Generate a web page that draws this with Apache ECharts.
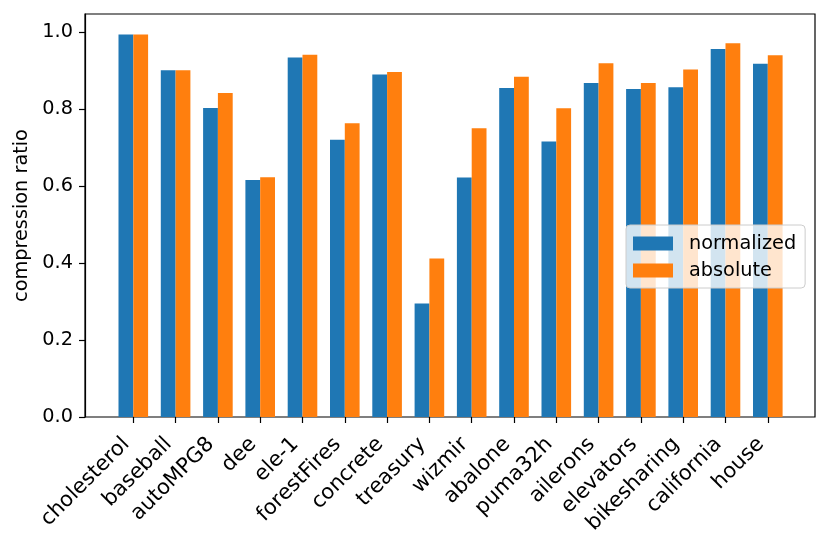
<!DOCTYPE html>
<html>
<head>
<meta charset="utf-8">
<script src="https://cdn.jsdelivr.net/npm/echarts@6/dist/echarts.min.js"></script>
<style>
  html, body { margin: 0; padding: 0; background: #fff; }
  #chart { width: 829px; height: 549px; }
</style>
</head>
<body>
<div id="chart"></div>
<script>
// datasets on the x axis
var categories = ['cholesterol', 'baseball', 'autoMPG8', 'dee', 'ele-1', 'forestFires', 'concrete', 'treasury',
    'wizmir', 'abalone', 'puma32h', 'ailerons', 'elevators', 'bikesharing', 'california', 'house'];

// compression ratio per dataset
var normalized = [0.994, 0.901, 0.803, 0.616, 0.934, 0.720, 0.890, 0.295,
    0.622, 0.855, 0.716, 0.868, 0.852, 0.857, 0.956, 0.918];
var absolute = [0.994, 0.901, 0.842, 0.623, 0.941, 0.763, 0.896, 0.412,
    0.750, 0.884, 0.802, 0.919, 0.868, 0.903, 0.971, 0.940];

var yTicks = [0, 0.2, 0.4, 0.6, 0.8, 1.0];

var chart = echarts.init(document.getElementById('chart'));
var font = 'DejaVu Sans';
var fs = 19.3;
var yMax = 1.047;

var option = {
    animation: false,
    textStyle: { fontFamily: font, color: '#000' },
    legend: {
        data: ['normalized', 'absolute'],
        orient: 'vertical',
        left: 626,
        top: 225,
        padding: [9, 9, 8, 7],
        itemWidth: 40,
        itemHeight: 14,
        itemGap: 8,
        icon: 'rect',
        backgroundColor: 'rgba(255,255,255,0.8)',
        borderColor: '#ccc',
        borderWidth: 1,
        borderRadius: 4,
        textStyle: { fontFamily: font, fontSize: fs, color: '#000', padding: [0, 0, 0, 11] }
    },
    grid: [
        // frame + y axis
        { left: 85, top: 14, width: 730, height: 403, show: true, borderColor: '#000', borderWidth: 1.2,
          backgroundColor: 'transparent', outerBoundsMode: 'none' },
        // bars, category spacing like matplotlib margins
        { left: 112.15, top: 14, width: 676.8, height: 403, outerBoundsMode: 'none' }
    ],
    xAxis: [
        { type: 'category', gridIndex: 0, show: false, data: categories },
        {
            type: 'category',
            gridIndex: 1,
            data: categories,
            boundaryGap: true,
            axisLine: { show: false },
            axisTick: { show: true, alignWithLabel: true, length: 6, lineStyle: { color: '#000', width: 1.2 } },
            axisLabel: {
                rotate: 45, margin: 17, interval: 0, padding: [0, 10, 0, 0],
                fontFamily: font, fontSize: 21, color: '#000'
            },
            splitLine: { show: false }
        }
    ],
    yAxis: [
        {
            type: 'value',
            gridIndex: 0,
            min: 0,
            max: yMax,
            name: 'compression ratio',
            nameLocation: 'middle',
            nameGap: 50,
            nameTextStyle: { fontFamily: font, fontSize: fs, color: '#000' },
            axisLine: { show: true, lineStyle: { color: '#000', width: 1.2 } },
            axisTick: { show: true, length: 6, customValues: yTicks, lineStyle: { color: '#000', width: 1.2 } },
            axisLabel: {
                margin: 12, fontFamily: font, fontSize: fs, color: '#000',
                customValues: yTicks,
                formatter: function (v) { return v.toFixed(1); }
            },
            splitLine: { show: false }
        },
        { type: 'value', gridIndex: 1, min: 0, max: yMax, show: false, splitLine: { show: false } }
    ],
    series: [
        {
            name: 'normalized',
            type: 'bar',
            xAxisIndex: 1,
            yAxisIndex: 1,
            data: normalized,
            barWidth: 14.8,
            barGap: '0%',
            itemStyle: { color: '#1f77b4' }
        },
        {
            name: 'absolute',
            type: 'bar',
            xAxisIndex: 1,
            yAxisIndex: 1,
            data: absolute,
            barWidth: 14.8,
            barGap: '0%',
            itemStyle: { color: '#ff7f0e' }
        }
    ]
};

chart.setOption(option);
</script>
</body>
</html>
